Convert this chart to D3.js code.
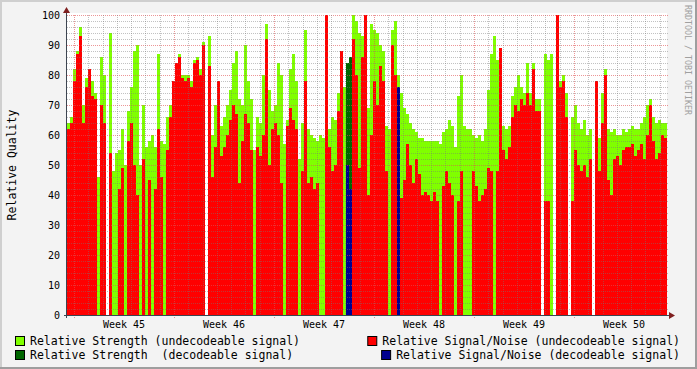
<!DOCTYPE html>
<html>
<head>
<meta charset="utf-8">
<script src="https://cdn.jsdelivr.net/npm/d3@7"></script>
<style>
  html, body { margin: 0; padding: 0; background: #f3f3f3; }
  svg { display: block; }
  text { font-family: "DejaVu Sans Mono", monospace; }
</style>
</head>
<body>
<div id="chart"></div>
<script>
// one value per column (null = no data)
const strengthUndec = [
  64, 66, 82, 88, 96, 70, 79, 80, 78, 74,
  46, 86, 80, null, 94, 48, 54, 55, 62, 50,
  68, 76, 88, 90, 50, 70, 56, 58, 60, 56,
  87, 58, 57, 66, 70, 78, 80, 87, 80, 80,
  80, 78, 85, 86, 82, 91, null, 93, 60, 70,
  68, 63, 66, 70, 75, 84, 88, 72, 70, 90,
  78, 72, 55, 66, 64, 80, 97, 75, 68, 70,
  84, 80, 57, 65, 82, 87, 78, 52, 64, 95,
  62, 60, 59, 58, 60, 59, 58, 62, 66, 65,
  74, 76, 76, null, null, 100, 98, 94, 93, 95,
  69, 97, 95, 94, 90, 88, 63, 62, 95, 98,
  80, 74, 69, 67, 64, 62, 61, 59, 59, 58,
  58, 58, 58, 58, 57, 61, 62, 65, 63, 56,
  73, 80, 63, 62, 62, 60, 59, 60, 58, 62,
  75, 87, 93, 85, 79, 63, 62, 63, 73, 76,
  80, 76, 74, 84, 74, 84, 72, 72, null, 87,
  85, 87, null, 80, 78, 80, 74, null, 66, 70,
  64, 62, 65, 60, 62, null, 74, 59, 74, 82,
  62, 61, 62, 60, 60, 62, 61, 62, 63, 62,
  62, 64, 66, 70, 72, 66, 64, 65, 64, 64
];

const snrUndec = [
  62, 64, 78, 87, 93, 64, 76, 82, 73, 72,
  null, 70, 64, null, 54, null, null, 42, 49, null,
  58, 64, 50, 40, null, 52, null, 45, null, 42,
  62, 46, null, 55, 66, 78, 84, 86, 79, 78,
  79, 76, 84, 85, 80, 90, null, 83, 46, 56,
  78, 53, 56, 60, 65, 70, 67, 44, 58, 67,
  64, 55, null, 56, 53, 60, 92, 50, 62, 64,
  60, 44, null, 63, 69, 65, 62, null, 48, 78,
  44, 46, 42, 44, null, null, 100, 56, 48, 50,
  68, 88, null, null, null, 92, 80, 49, 86, 100,
  40, 60, 78, 70, 83, 78, 48, null, 90, 80,
  null, 39, 45, 57, 50, 44, 52, 47, 40, 41,
  40, 38, 41, 38, null, 43, 48, 44, 40, null,
  38, 48, null, null, null, 48, 43, 38, 40, 42,
  49, 48, null, 48, 89, 55, 52, 56, 66, 70,
  68, 72, 70, 74, 70, 82, 68, 68, null, 38,
  38, null, null, 100, 76, 78, 66, null, 38, 55,
  50, 48, 50, 46, 52, null, 78, 48, 64, 80,
  45, 40, 52, 53, 50, 55, 56, 56, 57, 53,
  55, 57, 52, 60, 70, 58, 52, 54, 60, 59
];

// the few columns with decodeable signal
const decIndex = [93, 94, 110];
const strengthDec = [84, 86, null];
const snrDec = [50, 42, 76];

const yTicks = [0, 10, 20, 30, 40, 50, 60, 70, 80, 90, 100];

const legendItems = [
  { label: "Relative Strength (undecodeable signal)", color: "#80ff00", col: 0, row: 0 },
  { label: "Relative Signal/Noise (undecodeable signal)", color: "#ff0000", col: 1, row: 0 },
  { label: "Relative Strength  (decodeable signal)", color: "#006600", col: 0, row: 1 },
  { label: "Relative Signal/Noise (decodeable signal)", color: "#000090", col: 1, row: 1 }
];

function drawChart() {
  const width = 697;
  const height = 369;
  const plot = { left: 67, right: 667, top: 15, bottom: 315 };

  const svg = d3.select("#chart")
    .append("svg")
    .attr("width", width)
    .attr("height", height);

  // frame
  svg.append("rect").attr("width", width).attr("height", height).attr("fill", "#f3f3f3");
  svg.append("rect").attr("x", 0).attr("y", 0).attr("width", width).attr("height", 2).attr("fill", "#cfcfcf");
  svg.append("rect").attr("x", 0).attr("y", 0).attr("width", 2).attr("height", height).attr("fill", "#cfcfcf");
  svg.append("rect").attr("x", 0).attr("y", height - 2).attr("width", width).attr("height", 2).attr("fill", "#9e9e9e");
  svg.append("rect").attr("x", width - 2).attr("y", 0).attr("width", 2).attr("height", height).attr("fill", "#9e9e9e");

  svg.append("rect")
    .attr("x", plot.left).attr("y", plot.top - 2)
    .attr("width", plot.right - plot.left).attr("height", plot.bottom - plot.top + 2)
    .attr("fill", "#ffffff");

  const weekMs = 7 * 24 * 3600 * 1000;
  const startTime = new Date(Date.UTC(2008, 10, 3) - 0.07 * weekMs);
  const endTime = new Date(startTime.getTime() + 6 * weekMs);
  const stepMs = (endTime - startTime) / strengthUndec.length;
  const timeAt = (i) => new Date(startTime.getTime() + i * stepMs);

  const x = d3.scaleUtc().domain([startTime, endTime]).range([plot.left, plot.right]);
  const y = d3.scaleLinear().domain([0, 100]).range([plot.bottom, plot.top]);

  const dataLayer = svg.append("g").attr("shape-rendering", "crispEdges");

  function drawColumns(values, indices, color) {
    const cols = values
      .map((v, k) => ({ i: indices ? indices[k] : k, v }))
      .filter((d) => d.v != null);
    dataLayer.append("g")
      .selectAll("rect")
      .data(cols)
      .join("rect")
      .attr("x", (d) => Math.round(x(timeAt(d.i))))
      .attr("width", (d) => Math.round(x(timeAt(d.i + 1))) - Math.round(x(timeAt(d.i))))
      .attr("y", (d) => Math.round(y(d.v)))
      .attr("height", (d) => plot.bottom - Math.round(y(d.v)))
      .attr("fill", color);
  }

  drawColumns(strengthUndec, null, "#80ff00");
  drawColumns(strengthDec, decIndex, "#006600");
  drawColumns(snrUndec, null, "#ff0000");
  drawColumns(snrDec, decIndex, "#000090");

  // grid on top of the data
  const grid = svg.append("g").attr("shape-rendering", "crispEdges");
  const minorColor = "rgba(120,120,120,0.45)";
  const majorColor = "rgba(224,80,80,0.6)";

  const minorY = d3.range(0, 101, 2).filter((v) => v % 10 !== 0);
  grid.selectAll("line.hminor")
    .data(minorY)
    .join("line")
    .attr("class", "hminor")
    .attr("x1", plot.left).attr("x2", plot.right + 2)
    .attr("y1", (d) => Math.round(y(d)) + 0.5).attr("y2", (d) => Math.round(y(d)) + 0.5)
    .attr("stroke", minorColor).attr("stroke-dasharray", "1,1");

  grid.selectAll("line.hmajor")
    .data(yTicks.filter((v) => v > 0))
    .join("line")
    .attr("class", "hmajor")
    .attr("x1", plot.left).attr("x2", plot.right + 2)
    .attr("y1", (d) => Math.round(y(d)) + 0.5).attr("y2", (d) => Math.round(y(d)) + 0.5)
    .attr("stroke", majorColor).attr("stroke-dasharray", "1,1");

  const mondays = d3.utcMonday.range(startTime, endTime);
  const days = d3.utcDay.range(startTime, endTime).filter((d) => d.getUTCDay() !== 1);

  grid.selectAll("line.vminor")
    .data(days)
    .join("line")
    .attr("class", "vminor")
    .attr("x1", (d) => Math.round(x(d)) + 0.5).attr("x2", (d) => Math.round(x(d)) + 0.5)
    .attr("y1", plot.top).attr("y2", plot.bottom + 2)
    .attr("stroke", minorColor).attr("stroke-dasharray", "1,1");

  grid.selectAll("line.vmajor")
    .data(mondays)
    .join("line")
    .attr("class", "vmajor")
    .attr("x1", (d) => Math.round(x(d)) + 0.5).attr("x2", (d) => Math.round(x(d)) + 0.5)
    .attr("y1", plot.top).attr("y2", plot.bottom + 3)
    .attr("stroke", majorColor).attr("stroke-dasharray", "1,1");

  // axes
  const axisColor = "#3c4450";
  const arrowColor = "#7f1f1f";
  svg.append("line")
    .attr("x1", plot.left - 0.5).attr("x2", plot.left - 0.5)
    .attr("y1", plot.bottom + 3).attr("y2", plot.top - 5)
    .attr("stroke", axisColor);
  svg.append("line")
    .attr("x1", plot.left - 3).attr("x2", plot.right + 4)
    .attr("y1", plot.bottom + 0.5).attr("y2", plot.bottom + 0.5)
    .attr("stroke", axisColor);
  svg.append("path")
    .attr("d", `M${plot.left - 4},${plot.top - 2} L${plot.left - 0.5},${plot.top - 8} L${plot.left + 3},${plot.top - 2} Z`)
    .attr("fill", arrowColor);
  svg.append("path")
    .attr("d", `M${plot.right + 2},${plot.bottom - 3} L${plot.right + 8},${plot.bottom + 0.5} L${plot.right + 2},${plot.bottom + 4} Z`)
    .attr("fill", arrowColor);

  svg.append("g")
    .selectAll("text")
    .data(yTicks)
    .join("text")
    .attr("x", 60)
    .attr("y", (d) => y(d) + 4)
    .attr("text-anchor", "end")
    .attr("font-size", "10px")
    .attr("fill", "#000")
    .text((d) => d);

  const weekFormat = d3.utcFormat("%V");
  svg.append("g")
    .selectAll("text")
    .data(mondays)
    .join("text")
    .attr("x", (d) => x(d3.utcHour.offset(d, 84)))
    .attr("y", 328)
    .attr("text-anchor", "middle")
    .attr("font-size", "10px")
    .attr("fill", "#000")
    .text((d) => `Week ${weekFormat(d)}`);

  svg.append("text")
    .attr("transform", `translate(16,${(plot.top + plot.bottom) / 2}) rotate(-90)`)
    .attr("text-anchor", "middle")
    .attr("font-size", "11.5px")
    .attr("fill", "#000")
    .text("Relative Quality");

  svg.append("text")
    .attr("transform", "translate(685,5) rotate(90)")
    .attr("font-size", "8.3px")
    .attr("fill", "#a0a0a0")
    .text("RRDTOOL / TOBI OETIKER");

  // legend
  const legend = svg.append("g");
  const rowY = [336, 350];
  legendItems.forEach((item) => {
    const textEnd = 680;
    const g = legend.append("g");
    const label = g.append("text")
      .attr("y", rowY[item.row] + 9)
      .attr("font-size", "11.5px")
      .attr("fill", "#000")
      .style("white-space", "pre")
      .text(item.label);
    let tx = 30;
    if (item.col === 1) {
      const w = label.node().getComputedTextLength();
      tx = textEnd - w;
    }
    label.attr("x", tx);
    g.append("rect")
      .attr("x", tx - 14.5).attr("y", rowY[item.row] + 0.5)
      .attr("width", 9).attr("height", 9)
      .attr("fill", item.color)
      .attr("stroke", "#000");
  });
}

drawChart();
</script>
</body>
</html>
